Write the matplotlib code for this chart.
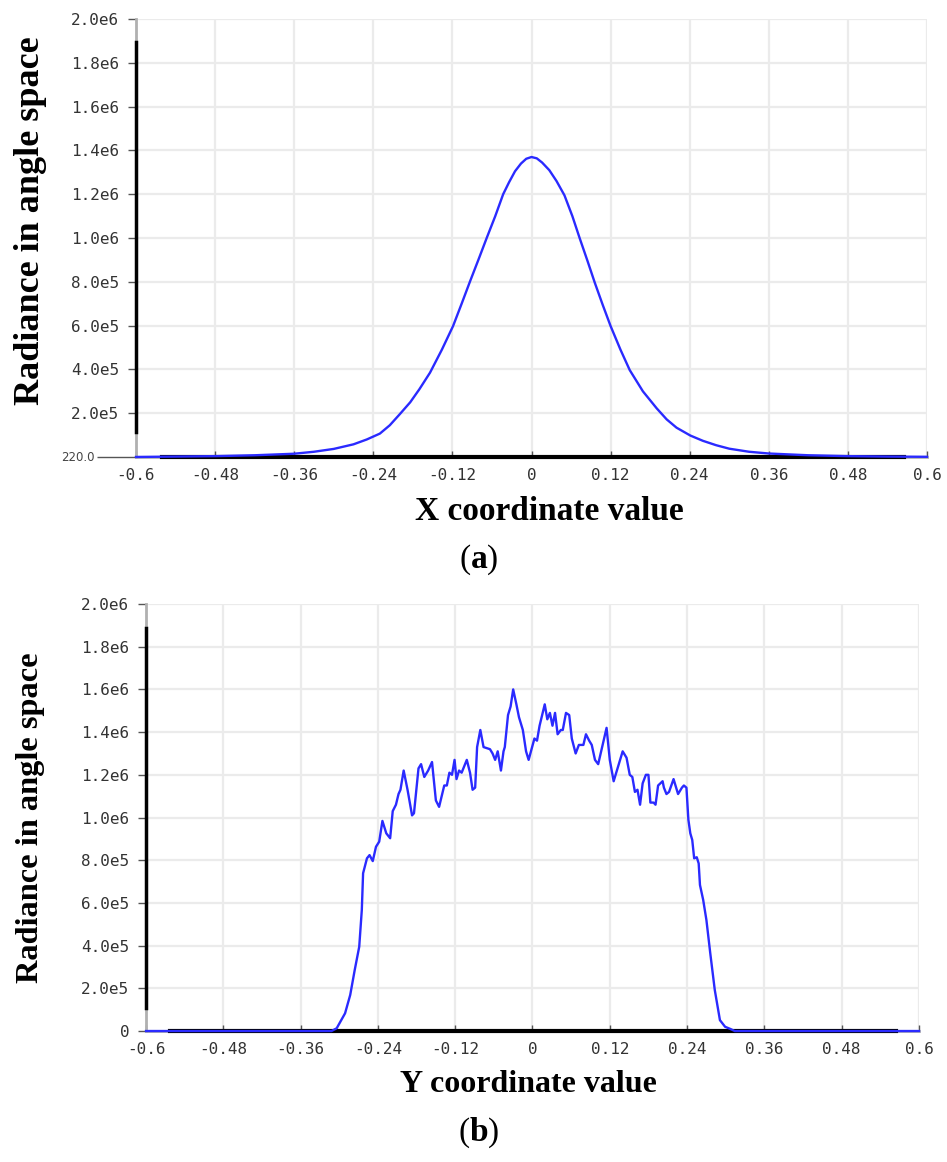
import numpy as np
import matplotlib
matplotlib.use("Agg")
import matplotlib.pyplot as plt

plt.rcParams['mathtext.fontset'] = 'custom'
plt.rcParams['mathtext.rm'] = 'Liberation Serif'
plt.rcParams['mathtext.bf'] = 'Liberation Serif:bold'

# panel (a): smooth profile along X
xa = [-0.60, -0.54, -0.48, -0.42, -0.36, -0.33, -0.30, -0.27, -0.25, -0.23,
      -0.215, -0.20, -0.184, -0.17, -0.154, -0.136, -0.119, -0.106, -0.093,
      -0.08, -0.068, -0.055, -0.043, -0.034, -0.025, -0.016, -0.008, 0.0,
      0.008, 0.016, 0.027, 0.038, 0.050, 0.062, 0.073, 0.085, 0.096, 0.108,
      0.120, 0.135, 0.149, 0.169, 0.190, 0.205, 0.220, 0.241, 0.26, 0.28,
      0.30, 0.33, 0.36, 0.42, 0.48, 0.54, 0.60]
ya = [220, 2000, 4000, 8000, 15000, 24000, 37000, 58000, 80000, 107000,
      145000, 195000, 250000, 310000, 385000, 490000, 598000, 700000, 804000,
      905000, 1000000, 1100000, 1200000, 1255000, 1305000, 1340000, 1362000, 1370000,
      1364000, 1345000, 1310000, 1260000, 1195000, 1100000, 1000000, 895000, 796000, 695000,
      598000, 490000, 397000, 300000, 222000, 172000, 134000, 98000, 74000, 54000,
      38000, 24000, 16000, 8000, 4000, 2000, 1000]

# panel (b): noisy profile along Y
xb = [-0.60, -0.312, -0.304, -0.291, -0.283, -0.276, -0.269, -0.265, -0.263,
      -0.257, -0.253, -0.248, -0.243, -0.238, -0.233, -0.227, -0.221, -0.217,
      -0.212, -0.208, -0.205, -0.200, -0.194, -0.187, -0.184, -0.177, -0.173,
      -0.168, -0.162, -0.156, -0.150, -0.145, -0.137, -0.133, -0.129, -0.125,
      -0.121, -0.118, -0.114, -0.110, -0.102, -0.097, -0.093, -0.089, -0.086,
      -0.081, -0.076, -0.066, -0.062, -0.058, -0.054, -0.049, -0.045, -0.043,
      -0.038, -0.034, -0.030, -0.025, -0.021, -0.015, -0.010, -0.006, 0.003,
      0.007, 0.011, 0.019, 0.023, 0.027, 0.031, 0.035, 0.039, 0.044, 0.047,
      0.052, 0.057, 0.061, 0.067, 0.072, 0.079, 0.083, 0.088, 0.092, 0.097,
      0.102, 0.115, 0.120, 0.126, 0.133, 0.140, 0.146, 0.151, 0.155, 0.159,
      0.163, 0.167, 0.171, 0.176, 0.180, 0.183, 0.188, 0.191, 0.195, 0.202,
      0.204, 0.208, 0.212, 0.219, 0.226, 0.232, 0.235, 0.239, 0.242, 0.245,
      0.248, 0.251, 0.255, 0.258, 0.260, 0.265, 0.270, 0.276, 0.283, 0.291,
      0.299, 0.307, 0.314, 0.60]
yb = [0, 0, 13000, 83000, 169000, 286000, 395000, 567000, 739000,
      809000, 824000, 796000, 863000, 887000, 984000, 926000, 903000, 1030000,
      1060000, 1110000, 1130000, 1220000, 1130000, 1010000, 1020000, 1230000, 1250000,
      1190000, 1220000, 1260000, 1080000, 1050000, 1150000, 1150000, 1210000, 1200000,
      1270000, 1180000, 1220000, 1210000, 1270000, 1210000, 1130000, 1140000, 1330000,
      1410000, 1330000, 1320000, 1300000, 1270000, 1310000, 1220000, 1310000, 1330000,
      1480000, 1520000, 1600000, 1530000, 1470000, 1410000, 1310000, 1270000, 1370000,
      1360000, 1430000, 1530000, 1460000, 1490000, 1430000, 1490000, 1390000, 1410000, 1410000,
      1490000, 1480000, 1370000, 1300000, 1340000, 1340000, 1390000, 1360000, 1340000, 1270000,
      1250000, 1420000, 1270000, 1170000, 1240000, 1310000, 1280000, 1200000, 1190000, 1120000,
      1130000, 1060000, 1160000, 1200000, 1200000, 1070000, 1070000, 1060000, 1150000, 1170000,
      1140000, 1110000, 1120000, 1180000, 1110000, 1140000, 1150000, 1140000, 990000, 926000,
      895000, 809000, 814000, 785000, 684000, 614000, 520000, 364000, 192000, 51000,
      20000, 10000, 0, 0]

xticks = [-0.6, -0.48, -0.36, -0.24, -0.12, 0, 0.12, 0.24, 0.36, 0.48, 0.6]
xticklabels = ['-0.6', '-0.48', '-0.36', '-0.24', '-0.12', '0', '0.12', '0.24',
               '0.36', '0.48', '0.6']
yticks = [0, 2e5, 4e5, 6e5, 8e5, 1e6, 1.2e6, 1.4e6, 1.6e6, 1.8e6, 2e6]
yticklabels_a = ['', '2.0e5', '4.0e5', '6.0e5', '8.0e5', '1.0e6', '1.2e6',
                 '1.4e6', '1.6e6', '1.8e6', '2.0e6']
yticklabels_b = ['0', '2.0e5', '4.0e5', '6.0e5', '8.0e5', '1.0e6', '1.2e6',
                 '1.4e6', '1.6e6', '1.8e6', '2.0e6']
ymin_label_a = '220.0'

fig = plt.figure(figsize=(9.47, 11.62), dpi=100)
ax_a = fig.add_axes([0.1436, 0.6067, 0.8353, 0.3769])
ax_b = fig.add_axes([0.1542, 0.1127, 0.8162, 0.3675])


def style(ax, ylabels, black_x, black_y):
    ax.set_xlim(-0.6, 0.6)
    ax.set_ylim(0, 2e6)
    ax.set_xticks(xticks)
    ax.set_xticklabels(xticklabels)
    ax.set_yticks(yticks)
    ax.set_yticklabels(ylabels)
    ax.grid(True, color='#ebebeb', lw=1.6)
    ax.set_axisbelow(True)
    for s in ['top', 'right']:
        ax.spines[s].set_visible(False)
    for s in ['left', 'bottom']:
        ax.spines[s].set_color('#b0b0b0')
        ax.spines[s].set_linewidth(2)
    ax.axhline(0, xmin=black_x[0], xmax=black_x[1], color='black', lw=3, clip_on=False, zorder=3)
    ax.axvline(-0.6, ymin=black_y[0], ymax=black_y[1], color='black', lw=2.5, clip_on=False, zorder=3)
    ax.tick_params(axis='x', direction='in', length=4, width=1, color='#555555',
                   labelsize=11.5, labelcolor='#333333', pad=8)
    ax.tick_params(axis='y', direction='out', length=6, width=1, color='#555555',
                   labelsize=11.5, labelcolor='#333333', pad=6)
    for lab in ax.get_xticklabels() + ax.get_yticklabels():
        lab.set_fontfamily('DejaVu Sans Mono')


ax_a.plot(xa, ya, color='#2a2aff', lw=1.7, zorder=4, clip_on=False)
style(ax_a, yticklabels_a, (0.033, 0.971), (0.057, 0.947))
t0 = ax_a.yaxis.get_major_ticks()[0]
t0.tick1line.set_markersize(28)
t0.tick1line.set_color('#777777')
ax_a.text(-0.052, 0, ymin_label_a, transform=ax_a.get_yaxis_transform(),
          ha='right', va='center', fontsize=8.5, color='#444444', family='DejaVu Sans')

ax_b.plot(xb, yb, color='#2a2aff', lw=1.7, zorder=4, clip_on=False)
style(ax_b, yticklabels_b, (0.031, 0.97), (0.053, 0.944))

serif = 'Liberation Serif'
fig.text(0.032, 0.81, 'Radiance in angle space', rotation=90, ha='center', va='center',
         fontsize=26, fontweight='bold', family=serif)
fig.text(0.58, 0.5594, 'X coordinate value', ha='center', va='center',
         fontsize=24, fontweight='bold', family=serif)
fig.text(0.505, 0.518, r'($\mathbf{a}$)', ha='center', va='center', fontsize=24, family=serif)

fig.text(0.032, 0.296, 'Radiance in angle space', rotation=90, ha='center', va='center',
         fontsize=23.3, fontweight='bold', family=serif)
fig.text(0.558, 0.0663, 'Y coordinate value', ha='center', va='center',
         fontsize=23, fontweight='bold', family=serif)
fig.text(0.505, 0.025, r'($\mathbf{b}$)', ha='center', va='center', fontsize=24, family=serif)

fig.savefig('out.png', dpi=100)
